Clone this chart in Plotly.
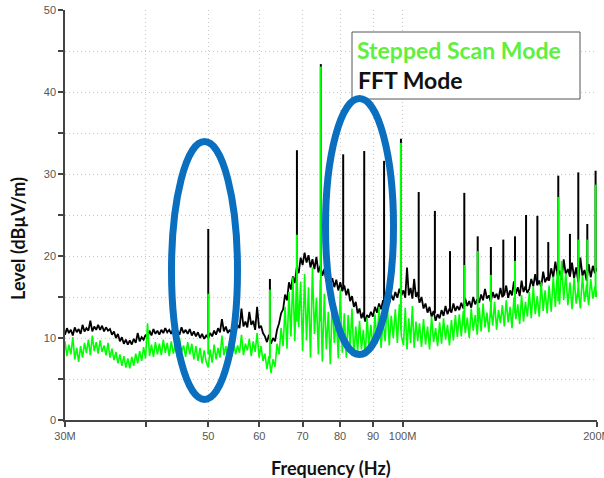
import numpy as np
import plotly.graph_objects as go

# ---- frequency segment edges (MHz) of the sweep ----
seg_edges = [30, 34, 37.8, 43.5, 50, 55.9, 61.2, 65.3, 70, 75.1, 81.8, 89.3,
             100.3, 106.2, 114.1, 122.4, 131.4, 143.7, 157.1, 168.6, 181.6, 200]

# ---- FFT Mode (black) noise floor, dBuV/m, per segment ----
fft_levels = [
    [10.4, 11.2, 10.6, 11.0, 10.3, 11.3, 10.7, 11.1, 10.5, 11.6, 10.8, 11.2, 10.9, 12.1, 10.8, 11.4, 11.0, 11.6],
    [11.0, 11.5, 10.8, 11.3, 10.9, 11.1, 10.4, 10.8, 10.0, 10.5, 9.6, 10.1, 9.3, 9.8, 9.2],
    [9.7, 9.2, 9.9, 9.4, 10.6, 9.6, 10.1, 9.8, 10.4, 10.0, 10.9, 10.3, 11.1, 10.5, 10.9, 10.4, 11.0, 10.6, 11.2, 10.7],
    [11.0, 10.5, 11.2, 10.7, 10.9, 10.4, 11.3, 10.6, 11.0, 10.5, 11.1, 10.3, 10.8, 10.2, 10.7, 10.0, 10.5, 9.9, 10.3],
    [10.0, 10.6, 10.2, 10.9, 10.4, 11.2, 10.7, 12.3, 10.8, 11.4, 10.6, 11.0, 10.5, 11.3, 10.7, 11.6],
    [11.2, 13.6, 11.4, 12.0, 11.3, 13.2, 11.6, 12.1, 11.0, 13.8, 11.2, 11.5, 10.6],
    [10.2, 9.5, 10.4, 9.3, 10.0, 9.6, 11.0, 11.8, 13.0],
    [13.5, 15.3, 14.6, 16.8, 15.9, 17.5, 16.7, 18.6, 17.9, 19.8],
    [18.9, 20.4, 19.2, 20.1, 18.6, 19.6, 18.4, 19.9, 18.0, 18.8],
    [17.6, 18.4, 16.9, 17.8, 16.5, 17.3, 16.2, 17.1, 15.8, 16.8, 15.7, 16.4],
    [15.2, 16.0, 14.5, 15.1, 13.8, 14.4, 13.0, 13.6, 12.4, 13.1, 12.0, 12.8, 12.5],
    [13.2, 12.6, 13.8, 13.1, 14.2, 13.5, 14.6, 13.9, 14.8, 14.2, 15.3, 14.6, 15.6, 14.9, 16.0, 15.2],
    [15.8, 14.9, 18.6, 15.2, 16.1, 14.8, 17.2, 15.0, 15.6],
    [14.3, 15.0, 13.6, 14.2, 13.1, 13.8, 12.6, 13.3, 12.1, 12.9],
    [12.4, 13.4, 12.7, 13.9, 12.9, 13.6, 13.1, 14.2, 13.3, 13.9],
    [13.4, 14.3, 13.6, 14.8, 13.9, 14.5, 13.7, 15.0, 14.1, 14.7],
    [14.3, 15.3, 14.6, 16.0, 14.8, 15.2, 14.4, 15.6, 14.9, 15.4, 14.7, 16.1, 15.0],
    [15.3, 16.4, 14.9, 15.8, 15.2, 16.9, 15.4, 16.2, 15.1, 17.0, 15.6, 16.3, 15.5],
    [16.0, 17.2, 16.3, 17.8, 16.5, 17.0, 16.2, 18.1, 16.8, 17.4],
    [17.0, 18.5, 17.4, 19.3, 17.6, 18.2, 17.1, 19.6, 17.8, 18.4],
    [17.5, 19.2, 17.3, 18.6, 16.8, 19.8, 17.6, 18.3, 17.0, 19.0, 17.4, 18.8, 17.9, 18.5],
]

# ---- Stepped Scan Mode (green) noise floor, dBuV/m, per segment ----
step_levels = [
    [9.6, 7.8, 9.2, 8.0, 10.1, 7.4, 8.8, 7.1, 9.0, 7.6, 9.4, 8.2, 9.8, 7.9, 10.3, 8.4, 9.5, 8.1],
    [9.7, 8.3, 9.1, 7.9, 9.4, 7.6, 8.7, 7.3, 8.3, 6.9, 8.0, 6.6, 7.8, 6.4, 7.5],
    [6.3, 7.7, 6.6, 8.1, 6.9, 8.4, 7.2, 8.9, 7.5, 11.8, 7.8, 9.2, 7.7, 9.5, 8.0, 9.3, 7.9, 9.8, 8.2, 9.4],
    [7.8, 9.6, 8.1, 9.2, 7.6, 10.0, 8.3, 9.1, 7.7, 9.5, 8.0, 9.3, 7.4, 9.0, 7.2, 8.8, 6.9, 8.5, 7.1],
    [6.4, 8.6, 7.0, 9.2, 7.4, 8.8, 7.6, 10.3, 7.9, 9.0, 7.3, 8.7, 7.8, 9.5, 8.0, 9.1],
    [8.2, 10.4, 7.9, 9.3, 8.5, 9.9, 7.8, 9.6, 8.3, 10.6, 7.6, 9.0, 7.2],
    [8.1, 6.2, 7.8, 5.7, 7.4, 6.5, 9.3, 8.0, 11.2],
    [9.0, 13.8, 8.7, 15.6, 10.2, 17.4, 9.6, 18.5, 11.3, 16.9],
    [8.4, 17.8, 9.7, 16.2, 7.6, 18.6, 10.5, 14.9, 8.0, 17.1],
    [7.1, 15.4, 8.6, 13.2, 6.8, 14.7, 9.4, 12.6, 7.5, 15.9, 8.2, 13.0],
    [7.6, 12.8, 8.9, 13.6, 7.8, 11.4, 8.4, 12.1, 8.6, 11.0, 7.9, 12.5, 9.0],
    [11.6, 8.7, 12.9, 9.3, 13.8, 8.8, 12.2, 9.6, 14.4, 9.1, 12.7, 10.0, 13.5, 9.4, 14.1, 10.2],
    [9.1, 13.7, 8.6, 12.4, 9.4, 13.9, 8.8, 12.0, 9.6],
    [11.8, 8.9, 12.3, 9.2, 11.4, 8.6, 12.6, 9.5, 11.2, 9.0],
    [11.9, 9.3, 12.4, 9.8, 11.6, 9.1, 12.2, 9.7, 12.8, 10.1],
    [12.9, 10.2, 13.3, 10.6, 12.5, 10.0, 13.6, 10.9, 12.8, 10.4],
    [13.7, 10.8, 14.2, 11.3, 13.1, 10.7, 13.9, 11.5, 14.4, 11.0, 13.4, 11.8, 14.0],
    [11.4, 14.6, 11.9, 13.8, 11.2, 14.9, 12.3, 14.1, 11.7, 15.2, 12.0, 14.4, 12.6],
    [15.6, 12.4, 16.3, 12.9, 15.1, 12.6, 16.8, 13.3, 15.8, 13.0],
    [16.4, 13.2, 17.5, 13.8, 18.2, 14.1, 19.4, 14.6, 17.9, 14.0],
    [16.8, 13.5, 17.3, 14.2, 16.1, 13.6, 17.6, 14.4, 16.5, 14.0, 17.2, 14.8, 16.3, 15.0],
]

# ---- discrete emission spikes ----
fft_spike_freq = [50.0, 62.3, 68.6, 74.7, 80.9, 87.2, 93.6, 99.4, 105.9, 112.2, 118.4, 124.6,
                  130.7, 137.0, 143.2, 149.3, 155.3, 161.7, 168.1, 174.2, 181.6, 187.1, 193.2, 199.0]
fft_spike_peak = [23.3, 17.2, 32.9, 43.4, 32.4, 32.8, 31.6, 34.3, 27.8, 25.5, 20.6, 27.7,
                  22.4, 21.1, 22.0, 22.4, 25.0, 24.9, 21.7, 29.8, 22.7, 30.2, 23.9, 30.4]
fft_spike_base = [10.2, 9.8, 17.0, 18.6, 16.0, 12.5, 13.8, 15.3, 15.0, 13.0, 13.3, 13.8,
                  14.5, 15.0, 15.2, 15.5, 16.0, 16.4, 17.0, 17.6, 17.5, 18.0, 18.2, 18.4]

step_spike_freq = [50.0, 62.3, 68.6, 74.7, 99.4, 124.6, 130.7, 137.0, 149.3, 174.2, 187.1, 193.2, 199.0]
step_spike_peak = [15.4, 15.9, 22.6, 43.1, 33.8, 18.9, 20.6, 17.7, 19.4, 27.2, 22.0, 22.0, 28.7]
step_spike_base = [8.0, 7.5, 12.0, 12.0, 11.0, 11.5, 12.0, 12.5, 13.0, 14.5, 15.0, 15.0, 15.0]

x_tick_vals = [30, 40, 50, 60, 70, 80, 90, 100, 200]
x_tick_text = ["30M", "", "50", "60", "70", "80", "90", "100M", "200M"]
y_tick_vals = [0, 5, 10, 15, 20, 25, 30, 35, 40, 45, 50]
y_tick_text = ["0", "", "10", "", "20", "", "30", "", "40", "", "50"]

GREEN = "#00ff00"
BLACK = "#000000"
BLUE = "#0b6fc0"


def sweep(levels):
    xs, ys = [], []
    last = len(levels) - 1
    for i, vals in enumerate(levels):
        xs.extend(np.geomspace(seg_edges[i], seg_edges[i + 1], len(vals), endpoint=(i == last)))
        ys.extend(vals)
    return xs, ys


def spikes(freq, base, peak):
    xs, ys = [], []
    for f, b, p in zip(freq, base, peak):
        xs += [f, f, None]
        ys += [b, p, None]
    return xs, ys


fig = go.Figure()
bx, by = sweep(fft_levels)
gx, gy = sweep(step_levels)
bsx, bsy = spikes(fft_spike_freq, fft_spike_base, fft_spike_peak)
gsx, gsy = spikes(step_spike_freq, step_spike_base, step_spike_peak)

fig.add_trace(go.Scatter(x=bx, y=by, mode="lines", line=dict(color=BLACK, width=1.8), name="FFT Mode"))
fig.add_trace(go.Scatter(x=bsx, y=bsy, mode="lines", line=dict(color=BLACK, width=2), showlegend=False))
fig.add_trace(go.Scatter(x=gx, y=gy, mode="lines", line=dict(color=GREEN, width=1.6), name="Stepped Scan Mode"))
fig.add_trace(go.Scatter(x=gsx, y=gsy, mode="lines", line=dict(color=GREEN, width=2), showlegend=False))

L, R, T, B = 65, 597, 10, 420
W, H = 604, 478


def px(x):
    return (x - L) / (R - L)


def py(y):
    return (B - y) / (B - T)


shapes = [
    dict(type="rect", xref="paper", yref="paper", x0=px(352), x1=px(580), y0=py(99), y1=py(32),
         line=dict(color="#555555", width=1), fillcolor="white", layer="above"),
    dict(type="circle", xref="paper", yref="paper", x0=px(171.5), x1=px(237.5), y0=py(399.5), y1=py(141.5),
         line=dict(color=BLUE, width=7), layer="above"),
    dict(type="circle", xref="paper", yref="paper", x0=px(325.5), x1=px(393.5), y0=py(354.5), y1=py(98.5),
         line=dict(color=BLUE, width=7), layer="above"),
]

annotations = [
    dict(text="Stepped Scan Mode", xref="paper", yref="paper", x=px(355), y=py(50), xanchor="left",
         yanchor="middle", showarrow=False, font=dict(family="Lato", size=23, color="#5fef3f", weight="bold")),
    dict(text="FFT Mode", xref="paper", yref="paper", x=px(356), y=py(80), xanchor="left",
         yanchor="middle", showarrow=False, font=dict(family="Lato", size=23, color="#111111", weight="bold")),
    dict(text="Frequency (Hz)", xref="paper", yref="paper", x=px(331), y=py(468), xanchor="center",
         yanchor="middle", showarrow=False, font=dict(family="Lato", size=18, color="#111111", weight="bold")),
    dict(text="Level (dBµV/m)", xref="paper", yref="paper", x=px(18), y=py(239), xanchor="center",
         yanchor="middle", textangle=-90, showarrow=False,
         font=dict(family="Lato", size=18, color="#111111", weight="bold")),
]

axis_common = dict(showline=True, linecolor="#444444", linewidth=1.5, ticks="outside", ticklen=5,
                   tickwidth=1.5, tickcolor="#444444", showgrid=True, gridcolor="#c8c8c8",
                   griddash="1px,3px", gridwidth=1, zeroline=False, ticklabeloverflow="allow",
                   automargin=False,
                   tickfont=dict(family="Liberation Sans", size=11, color="#555555"))

fig.update_layout(
    width=W, height=H, margin=dict(l=L, r=W - R, t=T, b=H - B, autoexpand=False),
    paper_bgcolor="white", plot_bgcolor="white", showlegend=False,
    shapes=shapes, annotations=annotations,
    xaxis=dict(type="log", range=[np.log10(30), np.log10(200)], tickvals=x_tick_vals,
               ticktext=x_tick_text, **axis_common),
    yaxis=dict(range=[0, 50], tickvals=y_tick_vals, ticktext=y_tick_text, **axis_common),
)

fig.write_html("out.html", config={"displayModeBar": False},
               post_script="document.body.style.margin='0';document.body.style.overflow='hidden';")
